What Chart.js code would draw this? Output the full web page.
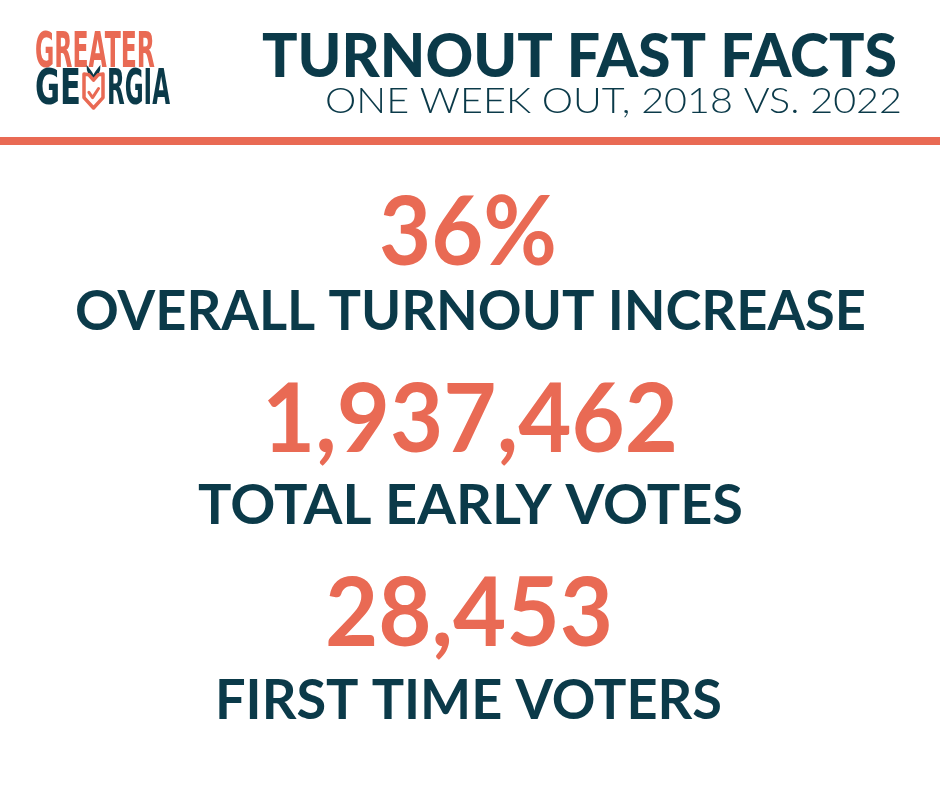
<!DOCTYPE html>
<html>
<head>
<meta charset="utf-8">
<script src="https://cdn.jsdelivr.net/npm/chart.js@4.4.1/dist/chart.umd.min.js"></script>
<style>
  html, body { margin: 0; padding: 0; background: #ffffff; }
  #wrap { position: relative; width: 940px; height: 788px; }
</style>
</head>
<body>
<div id="wrap"><canvas id="factsChart"></canvas></div>
<script>
// headline figures, one week out (2018 vs. 2022)
const statValues = [36, 1937462, 28453];
const statUnits = ["%", "", ""];
const statLabels = ["OVERALL TURNOUT INCREASE", "TOTAL EARLY VOTES", "FIRST TIME VOTERS"];
const titleText = "TURNOUT FAST FACTS";
const subtitleText = "ONE WEEK OUT, 2018 VS. 2022";
const logoLines = ["GREATER", "GE", "RGIA"];

const ORANGE = "#E96A54";
const TEAL = "#0B3A49";

// draws text starting at x on a baseline, stretched to a given width
function fitText(ctx, text, x, baseline, width, font, color) {
    ctx.save();
    ctx.font = font;
    ctx.fillStyle = color;
    ctx.textAlign = "left";
    ctx.textBaseline = "alphabetic";
    const w = ctx.measureText(text).width;
    ctx.translate(x, baseline);
    ctx.scale(width / w, 1);
    ctx.fillText(text, 0, 0);
    ctx.restore();
}

function drawShield(ctx, x, top, w, h) {
    ctx.save();
    // two leaves on top
    ctx.fillStyle = TEAL;
    ctx.beginPath();
    ctx.moveTo(x + w * 0.5, top + h * 0.2);
    ctx.quadraticCurveTo(x + w * 0.18, top + h * 0.1, x + w * 0.2, top - 6);
    ctx.quadraticCurveTo(x + w * 0.45, top + h * 0.02, x + w * 0.5, top + h * 0.1);
    ctx.quadraticCurveTo(x + w * 0.55, top + h * 0.02, x + w * 0.8, top - 6);
    ctx.quadraticCurveTo(x + w * 0.82, top + h * 0.1, x + w * 0.5, top + h * 0.2);
    ctx.closePath();
    ctx.fill();
    // shield outline
    ctx.strokeStyle = ORANGE;
    ctx.lineWidth = 3.5;
    ctx.lineJoin = "round";
    ctx.beginPath();
    ctx.moveTo(x + 2, top + h * 0.08);
    ctx.lineTo(x + w * 0.3, top + h * 0.1);
    ctx.lineTo(x + w * 0.5, top + h * 0.24);
    ctx.lineTo(x + w * 0.7, top + h * 0.1);
    ctx.lineTo(x + w - 2, top + h * 0.08);
    ctx.lineTo(x + w - 2, top + h * 0.7);
    ctx.lineTo(x + w * 0.5, top + h - 1);
    ctx.lineTo(x + 2, top + h * 0.7);
    ctx.closePath();
    ctx.stroke();
    // check mark
    ctx.lineWidth = 3;
    ctx.lineCap = "round";
    ctx.beginPath();
    ctx.moveTo(x + w * 0.3, top + h * 0.56);
    ctx.lineTo(x + w * 0.46, top + h * 0.7);
    ctx.lineTo(x + w * 0.72, top + h * 0.46);
    ctx.stroke();
    ctx.restore();
}

const factsPanel = {
    id: "factsPanel",
    afterDraw(chart) {
        const ctx = chart.ctx;
        const logoFont = "bold 50px 'DejaVu Sans Condensed', 'DejaVu Sans'";

        // logo
        fitText(ctx, logoLines[0], 35, 67, 120, logoFont, ORANGE);
        fitText(ctx, logoLines[1], 35, 104, 46, logoFont, TEAL);
        drawShield(ctx, 82, 71, 23, 38);
        fitText(ctx, logoLines[2], 107, 104, 63, logoFont, TEAL);

        // header
        fitText(ctx, titleText, 262, 77, 635, "900 60px Lato", TEAL);
        fitText(ctx, subtitleText, 325, 113, 577, "300 35px Lato", TEAL);

        // divider
        ctx.fillStyle = ORANGE;
        ctx.fillRect(0, 137, chart.width, 8);

        // stat blocks
        const blocks = [
            { numX: 379, numW: 178, numBase: 265, labX: 75, labW: 791, labBase: 330 },
            { numX: 262, numW: 416, numBase: 452, labX: 198, labW: 545, labBase: 524 },
            { numX: 325, numW: 288, numBase: 646, labX: 215, labW: 507, labBase: 719 },
        ];
        statValues.forEach((v, i) => {
            const b = blocks[i];
            const txt = v.toLocaleString("en-US") + statUnits[i];
            fitText(ctx, txt, b.numX, b.numBase, b.numW, "bold 95px Lato", ORANGE);
            fitText(ctx, statLabels[i], b.labX, b.labBase, b.labW, "bold 56px Lato", TEAL);
        });
    },
};

Promise.all([
    document.fonts.load("900 60px Lato"),
    document.fonts.load("300 35px Lato"),
    document.fonts.load("bold 56px Lato"),
    document.fonts.load("bold 50px 'DejaVu Sans Condensed'"),
]).catch(() => {}).then(() => {
    new Chart(document.getElementById("factsChart"), {
        type: "bar",
        data: { labels: statLabels, datasets: [{ data: [] }] },
        options: {
            responsive: true,
            maintainAspectRatio: false,
            animation: false,
            events: [],
            scales: { x: { display: false }, y: { display: false } },
            plugins: { legend: { display: false }, tooltip: { enabled: false } },
        },
        plugins: [factsPanel],
    });
});
</script>
</body>
</html>
